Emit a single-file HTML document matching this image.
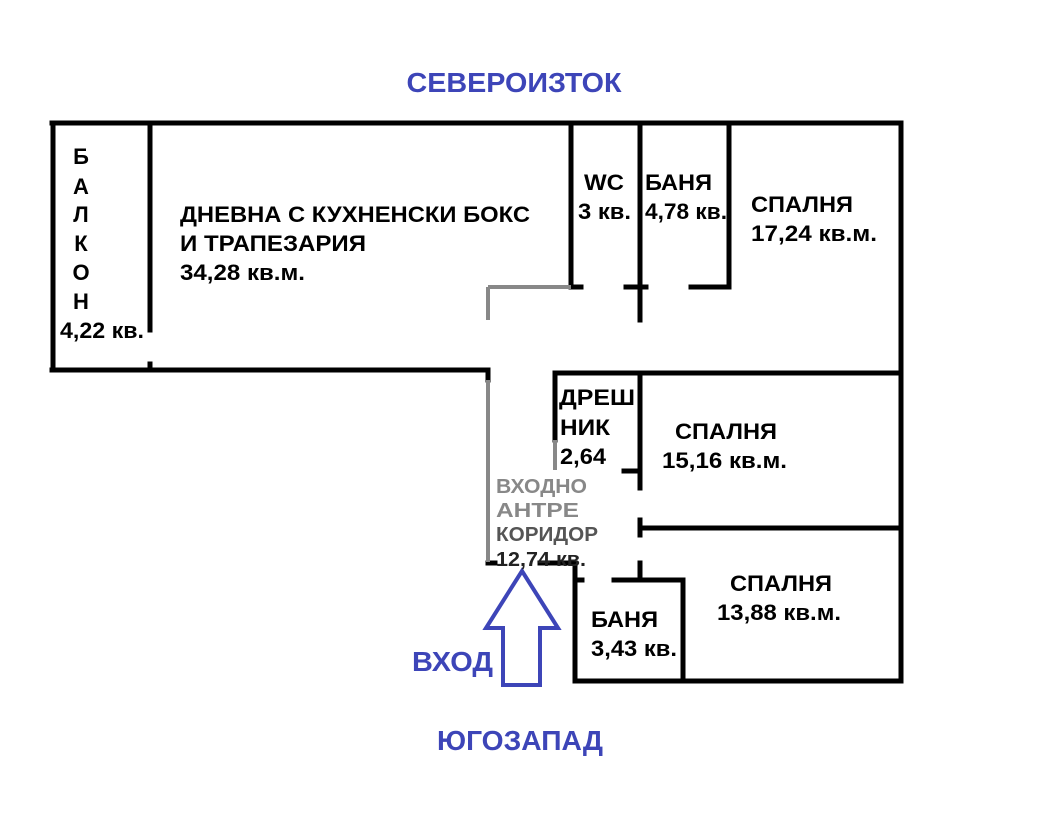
<!DOCTYPE html>
<html><head><meta charset="utf-8"><style>
html,body{margin:0;padding:0;background:#fff;}
svg{display:block;}
text{font-family:"Liberation Sans",sans-serif;font-weight:bold;}
</style></head><body>
<svg width="1060" height="822" viewBox="0 0 1060 822" xmlns="http://www.w3.org/2000/svg">
<rect width="1060" height="822" fill="#fff"/>
<g stroke="#000" stroke-width="5" fill="none" stroke-linecap="square">
<line x1="52" y1="123" x2="901" y2="123"/>
<line x1="53" y1="123" x2="53" y2="370"/>
<line x1="52" y1="370" x2="488" y2="370"/>
<line x1="901" y1="123" x2="901" y2="681"/>
<line x1="150" y1="123" x2="150" y2="330"/>
<line x1="150" y1="364" x2="150" y2="370"/>
<line x1="571" y1="123" x2="571" y2="287"/>
<line x1="571" y1="287" x2="581" y2="287"/>
<line x1="640" y1="123" x2="640" y2="320"/>
<line x1="626" y1="287" x2="646" y2="287"/>
<line x1="729" y1="123" x2="729" y2="287"/>
<line x1="691" y1="287" x2="729" y2="287"/>
<line x1="555" y1="373" x2="555" y2="440"/>
<line x1="555" y1="373" x2="900" y2="373"/>
<line x1="640" y1="373" x2="640" y2="488"/>
<line x1="624" y1="471" x2="640" y2="471"/>
<line x1="640" y1="528" x2="900" y2="528"/>
<line x1="640" y1="520" x2="640" y2="535"/>
<line x1="640" y1="563" x2="640" y2="580"/>
<line x1="614" y1="580" x2="683" y2="580"/>
<line x1="683" y1="580" x2="683" y2="681"/>
<line x1="575" y1="567" x2="575" y2="681"/>
<line x1="575" y1="681" x2="901" y2="681"/>
<line x1="575" y1="580" x2="582" y2="580"/>
<line x1="488" y1="563" x2="495" y2="563"/>
<line x1="540" y1="563" x2="575" y2="563"/>
<line x1="488" y1="370" x2="488" y2="380"/>
</g>
<g stroke="#888" stroke-width="4" fill="none">
<line x1="488" y1="287" x2="571" y2="287"/>
<line x1="488" y1="287" x2="488" y2="320"/>
<line x1="488" y1="380" x2="488" y2="562"/>
<line x1="555" y1="440" x2="555" y2="470"/>
</g>
<polygon points="522,571 558,628 540,628 540,685 503,685 503,628 486,628" fill="#fff" stroke="#3d45b8" stroke-width="4" stroke-linejoin="miter"/>
<g fill="#3d45b8" font-size="28">
<text x="514" y="92" text-anchor="middle" textLength="215" lengthAdjust="spacingAndGlyphs">СЕВЕРОИЗТОК</text>
<text x="520" y="750" text-anchor="middle" textLength="166" lengthAdjust="spacingAndGlyphs">ЮГОЗАПАД</text>
<text x="412" y="671" textLength="81" lengthAdjust="spacingAndGlyphs">ВХОД</text>
</g>
<g fill="#000" font-size="22">
<text x="81" y="164" text-anchor="middle">Б</text>
<text x="81" y="194" text-anchor="middle">А</text>
<text x="81" y="222" text-anchor="middle">Л</text>
<text x="81" y="251" text-anchor="middle">К</text>
<text x="81" y="280" text-anchor="middle">О</text>
<text x="81" y="309" text-anchor="middle">Н</text>
<text x="60" y="338" textLength="84" lengthAdjust="spacingAndGlyphs">4,22 кв.</text>
<text x="180" y="222" textLength="350" lengthAdjust="spacingAndGlyphs">ДНЕВНА С КУХНЕНСКИ БОКС</text>
<text x="180" y="251" textLength="186" lengthAdjust="spacingAndGlyphs">И ТРАПЕЗАРИЯ</text>
<text x="180" y="280" textLength="125" lengthAdjust="spacingAndGlyphs">34,28 кв.м.</text>
<text x="584" y="190" textLength="40" lengthAdjust="spacingAndGlyphs">WC</text>
<text x="578" y="219" textLength="53" lengthAdjust="spacingAndGlyphs">3 кв.</text>
<text x="645" y="190" textLength="67" lengthAdjust="spacingAndGlyphs">БАНЯ</text>
<text x="645" y="219" textLength="82" lengthAdjust="spacingAndGlyphs">4,78 кв.</text>
<text x="751" y="212" textLength="102" lengthAdjust="spacingAndGlyphs">СПАЛНЯ</text>
<text x="751" y="241" textLength="126" lengthAdjust="spacingAndGlyphs">17,24 кв.м.</text>
<text x="559" y="405" textLength="76" lengthAdjust="spacingAndGlyphs">ДРЕШ</text>
<text x="560" y="435" textLength="50" lengthAdjust="spacingAndGlyphs">НИК</text>
<text x="560" y="464" textLength="46" lengthAdjust="spacingAndGlyphs">2,64</text>
<text x="675" y="439" textLength="102" lengthAdjust="spacingAndGlyphs">СПАЛНЯ</text>
<text x="662" y="468" textLength="125" lengthAdjust="spacingAndGlyphs">15,16 кв.м.</text>
<text x="730" y="591" textLength="102" lengthAdjust="spacingAndGlyphs">СПАЛНЯ</text>
<text x="717" y="620" textLength="124" lengthAdjust="spacingAndGlyphs">13,88 кв.м.</text>
<text x="591" y="627" textLength="67" lengthAdjust="spacingAndGlyphs">БАНЯ</text>
<text x="591" y="656" textLength="86" lengthAdjust="spacingAndGlyphs">3,43 кв.</text>
</g>
<g font-size="20">
<text x="496" y="493" fill="#888" textLength="91" lengthAdjust="spacingAndGlyphs">ВХОДНО</text>
<text x="496" y="517" fill="#888" textLength="83" lengthAdjust="spacingAndGlyphs">АНТРЕ</text>
<text x="496" y="541" fill="#555" textLength="102" lengthAdjust="spacingAndGlyphs">КОРИДОР</text>
<text x="496" y="566" fill="#222" textLength="90" lengthAdjust="spacingAndGlyphs">12,74 кв.</text>
</g>
</svg>
</body></html>
